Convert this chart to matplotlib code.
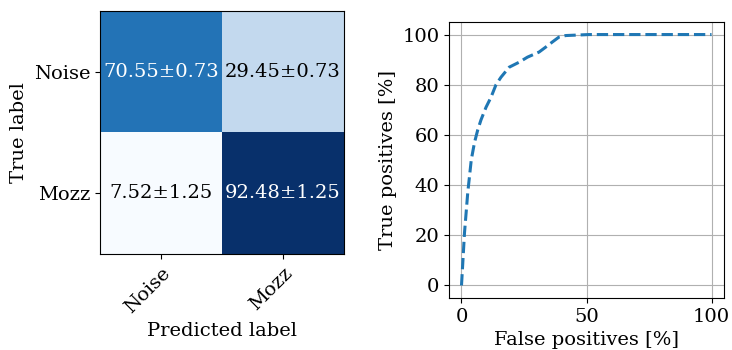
import numpy as np
import matplotlib
matplotlib.use("Agg")
import matplotlib.pyplot as plt

plt.rcParams['font.family'] = ['DejaVu Serif']
plt.rcParams['font.size'] = 14

classes = ["Noise", "Mozz"]
cm_mean = np.array([[70.55, 29.45], [7.52, 92.48]])
cm_std = np.array([[0.73, 0.73], [1.25, 1.25]])

fpr = [0, 1.2, 2.5, 3.9, 5.2, 6.5, 7.8, 9.8, 11.8, 13.8, 15.8, 19.1, 23.1, 26.4, 31.0, 33.7, 36.3, 39.0, 41.7, 51.0, 100]
tpr = [0, 21, 37, 50, 57, 62, 66, 71, 75, 80, 83, 87, 89, 91, 93, 95, 97, 99, 99.6, 100, 100]

fig = plt.figure(figsize=(7.32, 3.5), dpi=100)
ax1 = fig.add_axes([100/732, 96/350, 244/732, 243/350])
ax1.imshow(cm_mean, interpolation='nearest', cmap=plt.cm.Blues, aspect='auto')
thresh = cm_mean.max() / 2.
for i in range(2):
    for j in range(2):
        ax1.text(j, i, f"{cm_mean[i, j]:.2f}±{cm_std[i, j]:.2f}",
                 ha='center', va='center',
                 color='white' if cm_mean[i, j] > thresh else 'black')
ax1.set_xticks(range(2))
ax1.set_xticklabels(classes)
plt.setp(ax1.get_xticklabels(), rotation=45, ha='right', rotation_mode='anchor')
ax1.set_yticks(range(2))
ax1.set_yticklabels(classes)
ax1.set_ylabel('True label')
ax1.set_xlabel('Predicted label')

ax2 = fig.add_axes([449/732, 52/350, 275/732, 276/350])
ax2.plot(fpr, tpr, '--', color='C0', lw=2.2)
ax2.set_xlabel('False positives [%]')
ax2.set_ylabel('True positives [%]')
ax2.set_xticks([0, 50, 100])
ax2.set_yticks([0, 20, 40, 60, 80, 100])
ax2.grid(True)

fig.savefig('out.png', dpi=100)
